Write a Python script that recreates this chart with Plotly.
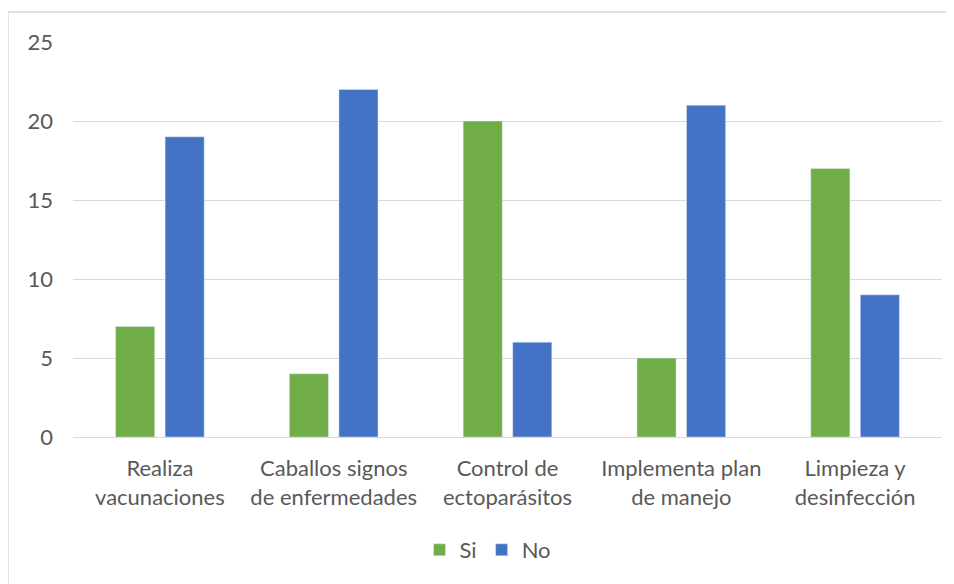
import plotly.graph_objects as go

categories = ["Realiza<br>vacunaciones", "Caballos signos<br>de enfermedades", "Control de<br>ectoparásitos",
              "Implementa plan<br>de manejo", "Limpieza y<br>desinfección"]
si_values = [7, 4, 20, 5, 17]
no_values = [19, 22, 6, 21, 9]
y_ticks = [0, 5, 10, 15, 20, 25]

# page body has an 8px margin; figure is sized/positioned to compensate
OFF = 8
W, H = 954 - OFF, 584 - OFF
L, T = 73 - OFF, 42 - OFF
plot_right, plot_bottom = 942 - OFF, 437 - OFF
R, B = W - plot_right, H - plot_bottom
pw, ph = W - L - R, H - T - B

def px_to_paper_x(x):
    return (x - OFF - L) / pw

def px_to_paper_y(y):
    return (plot_bottom - (y - OFF)) / ph

fig = go.Figure()
fig.add_trace(go.Bar(name="Si", x=categories, y=si_values, marker_color="#70AD47"))
fig.add_trace(go.Bar(name="No", x=categories, y=no_values, marker_color="#4472C4"))

font = dict(family="Lato, Carlito, Calibri, sans-serif", size=22, color="#595959")

fig.update_layout(
    width=W, height=H,
    margin=dict(l=L, r=R, t=T, b=B),
    paper_bgcolor="white", plot_bgcolor="white",
    barmode="group", bargap=0.43, bargroupgap=0.21,
    font=font,
    showlegend=True,
    legend=dict(orientation="h", x=px_to_paper_x(488), xanchor="center", y=px_to_paper_y(550), yanchor="middle",
                font=font, itemwidth=30, traceorder="normal"),
    xaxis=dict(showgrid=False, showline=True, linecolor="#D9D9D9", linewidth=1, ticks="",
               ticklabelstandoff=12, tickfont=font, fixedrange=True),
    yaxis=dict(range=[0, 25], tickvals=y_ticks, showgrid=True, gridcolor="#D9D9D9", gridwidth=1,
               zeroline=False, showline=False, ticks="", ticklabelstandoff=19, tickfont=font),
    shapes=[dict(type="rect", xref="paper", yref="paper",
                 x0=px_to_paper_x(8), x1=px_to_paper_x(954 + 10),
                 y0=px_to_paper_y(584 + 10), y1=px_to_paper_y(12),
                 line=dict(color="#D9D9D9", width=1.5), fillcolor="rgba(0,0,0,0)", layer="below")],
)

fig.write_html("out.html")
